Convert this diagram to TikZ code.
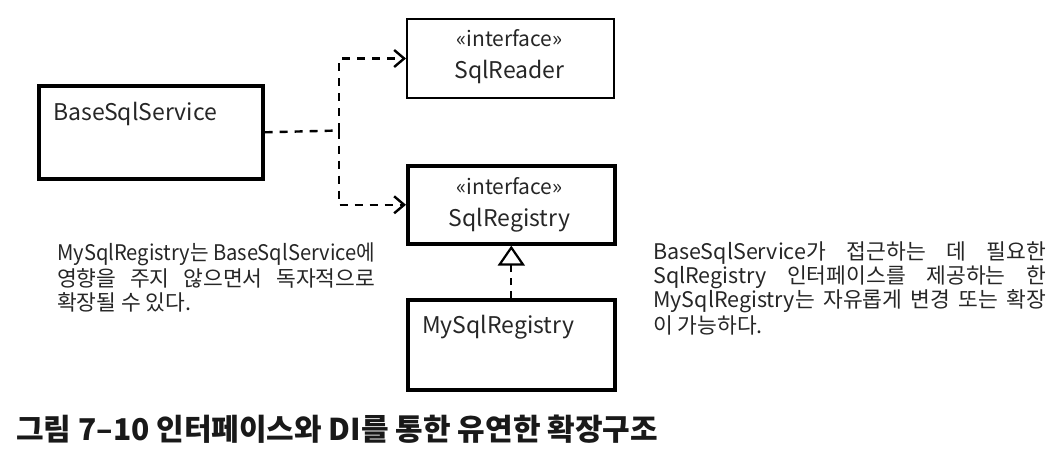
\documentclass[tikz,border=0pt]{standalone}
\usepackage{fontspec}
\usepackage{graphicx}
\setmainfont{Noto Sans CJK KR}
\usetikzlibrary{arrows.meta}
\newcommand\jline[2]{\setbox0\hbox{#2}\ifdim\wd0>#1\relax\scalebox{\fpeval{#1/\the\wd0}}[1]{\box0}\else\makebox[#1][s]{#2}\fi}
\tikzset{
  umlbox/.style={draw=black, line width=3.6pt, anchor=north west, inner sep=0pt, minimum width=207pt},
  thinbox/.style={draw=black, line width=2pt, anchor=north west, inner sep=0pt, minimum width=207pt},
  stereo/.style={inner sep=0pt, text=black!85, font=\fontsize{21}{24}\selectfont},
  clsname/.style={inner sep=0pt, text=black!85, font=\fontsize{23}{27}\selectfont},
  note/.style={inner sep=0pt, anchor=west, text=black!85, font=\fontsize{21.5}{24}\selectfont},
  dep/.style={line width=2.4pt, dash pattern=on 8pt off 7pt, -{Straight Barb[length=10pt,width=17pt]}},
  depline/.style={line width=2.4pt, dash pattern=on 8pt off 7pt},
  realize/.style={line width=2.2pt, dash pattern=on 7pt off 6pt, -{Triangle[open,length=20pt,width=27pt,line width=2.2pt]}},
}
\begin{document}
\begin{tikzpicture}[x=1pt,y=-1pt]
\useasboundingbox (0,0) rectangle (1057,456);
% boxes
\node[umlbox, minimum width=224pt, minimum height=93pt] (base) at (37,84) {};
\node[thinbox, minimum height=79pt] (reader) at (406,18) {};
\node[umlbox, minimum height=78pt] (registry) at (406,164) {};
\node[umlbox, minimum height=90pt] (my) at (406,298) {};
% box texts
\node[clsname, anchor=west] (baseT) at (53,114) {BaseSqlService};
\node[stereo] (readerS) at (509.5,38) {«interface»};
\node[clsname] (readerT) at (509.5,72) {SqlReader};
\node[stereo] (registryS) at (509.5,186) {«interface»};
\node[clsname] (registryT) at (509.5,220) {SqlRegistry};
\node[clsname, anchor=west] (myT) at (422,327) {MySqlRegistry};
% connectors
\coordinate (j) at (339,130.5);
\draw[depline] (base.east) -- (j);
\draw[dep] (j) |- (reader.west);
\draw[dep] (j) |- (registry.west);
\draw[realize] (my.north) -- (registry.south);
% notes
\node[note] (l1) at (57,254) {\jline{318pt}{MySqlRegistry는 BaseSqlService에}};
\node[note] (l2) at (57,278) {\jline{318pt}{영향을 주지 않으면서 독자적으로}};
\node[note] (l3) at (57,302) {확장될 수 있다.};
\node[note] (r1) at (653,253) {\jline{393pt}{BaseSqlService가 접근하는 데 필요한}};
\node[note] (r2) at (653,277) {\jline{393pt}{SqlRegistry 인터페이스를 제공하는 한}};
\node[note] (r3) at (653,301) {\jline{393pt}{MySqlRegistry는 자유롭게 변경 또는 확장}};
\node[note] (r4) at (653,325) {이 가능하다.};
% caption
\node[inner sep=0pt, anchor=west, text=black!90, font=\bfseries\fontsize{30}{34}\selectfont] (cap) at (16,429) {그림 7–10 인터페이스와 DI를 통한 유연한 확장구조};
\end{tikzpicture}
\end{document}
